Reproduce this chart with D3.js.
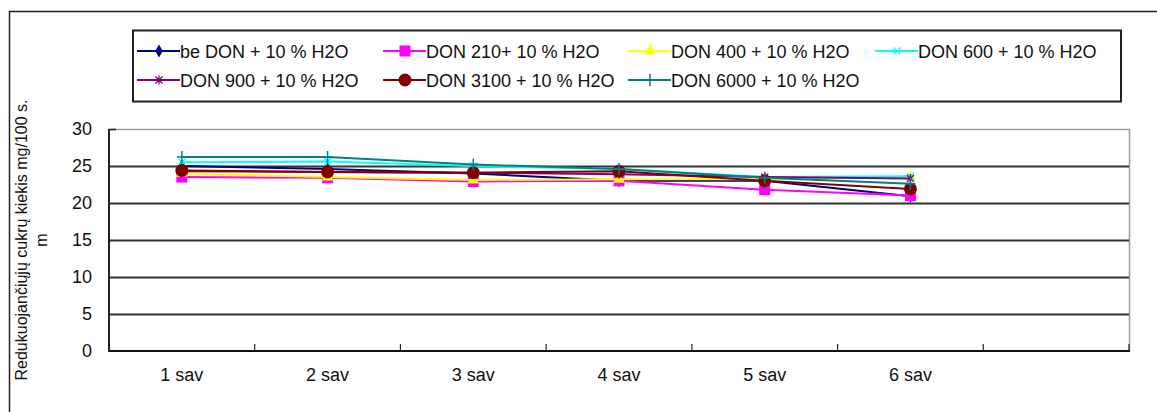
<!DOCTYPE html>
<html>
<head>
<meta charset="utf-8">
<script src="https://cdn.jsdelivr.net/npm/d3@7"></script>
<style>
  body { margin: 0; background: #fff; }
  text { font-family: "Liberation Sans", Arial, sans-serif; fill: #111; }
</style>
</head>
<body>
<div id="vis"></div>
<script>
const FRAME_WIDTH = 1157;
const FRAME_HEIGHT = 412;
const PLOT = {left: 109, right: 1129, top: 129, bottom: 351};

// data
const weeks = ["1 sav", "2 sav", "3 sav", "4 sav", "5 sav", "6 sav", ""];
const seriesNames = ["be DON + 10 % H2O", "DON 210+ 10 % H2O", "DON 400 + 10 % H2O",
  "DON 600 + 10 % H2O", "DON 900 + 10 % H2O", "DON 3100 + 10 % H2O", "DON 6000 + 10 % H2O"];
const beDon   = [25.0, 24.6, 24.0, 23.0, 23.0, 20.9];
const don210  = [23.5, 23.4, 22.9, 23.0, 21.8, 21.0];
const don400  = [24.0, 23.5, 23.1, 23.2, 23.2, 23.5];
const don600  = [25.5, 25.6, 25.0, 24.6, 23.5, 23.6];
const don900  = [24.3, 24.2, 24.1, 23.9, 23.5, 23.3];
const don3100 = [24.4, 24.2, 24.1, 24.3, 23.0, 21.9];
const don6000 = [26.2, 26.2, 25.2, 24.6, 23.4, 22.6];
const yTicks = [0, 5, 10, 15, 20, 25, 30];

const allValues = [beDon, don210, don400, don600, don900, don3100, don6000];
const colors = ["#000080", "#ff00ff", "#ffff00", "#00ffff", "#800080", "#800000", "#008080"];
const markers = ["diamond", "square", "triangle", "cross", "star", "circle", "plus"];

const svg = d3.select("#vis").append("svg")
    .attr("width", FRAME_WIDTH)
    .attr("height", FRAME_HEIGHT);

// outer chart frame (runs off the right and bottom)
svg.append("path")
    .attr("d", "M9.5,420 V11.5 H1170")
    .attr("fill", "none")
    .attr("stroke", "#222")
    .attr("stroke-width", 1.5);

const X_SCALE = d3.scaleBand()
    .domain(weeks)
    .range([PLOT.left, PLOT.right]);
const Y_SCALE = d3.scaleLinear()
    .domain([0, 30])
    .range([PLOT.bottom, PLOT.top]);

// plot area border (grey, top and right)
svg.append("path")
    .attr("d", `M${PLOT.left},${PLOT.top + 0.5} H${PLOT.right + 0.5} V${PLOT.bottom}`)
    .attr("fill", "none")
    .attr("stroke", "#9a9a9a")
    .attr("stroke-width", 1.5);

// gridlines
svg.append("g")
    .attr("transform", `translate(${PLOT.left},0)`)
    .call(d3.axisLeft(Y_SCALE).tickValues(yTicks.slice(1, -1))
        .tickSize(-(PLOT.right - PLOT.left)).tickFormat(""))
    .call(g => g.select(".domain").remove())
    .call(g => g.selectAll("line").attr("stroke", "#333").attr("stroke-width", 2));

// y axis labels
svg.append("g")
    .attr("transform", `translate(${PLOT.left},0)`)
    .call(d3.axisLeft(Y_SCALE).tickValues(yTicks).tickSize(0).tickPadding(17))
    .call(g => g.select(".domain").remove())
    .call(g => g.selectAll("text").attr("font-size", "18px")
        .attr("font-family", "Liberation Sans, Arial, sans-serif"));

// small inward tick at the top of the y axis
svg.append("line")
    .attr("x1", PLOT.left).attr("x2", PLOT.left + 7)
    .attr("y1", Y_SCALE(30) + 0.5).attr("y2", Y_SCALE(30) + 0.5)
    .attr("stroke", "#222").attr("stroke-width", 1.5);

// x axis labels
svg.append("g")
    .attr("transform", `translate(0,${PLOT.bottom})`)
    .call(d3.axisBottom(X_SCALE).tickSize(0).tickPadding(17))
    .call(g => g.select(".domain").remove())
    .call(g => g.selectAll("text").attr("font-size", "18px")
        .attr("font-family", "Liberation Sans, Arial, sans-serif"));

// x ticks between categories, pointing up
svg.append("g").selectAll("line")
    .data(weeks)
    .enter().append("line")
      .attr("x1", d => X_SCALE(d) + X_SCALE.bandwidth())
      .attr("x2", d => X_SCALE(d) + X_SCALE.bandwidth())
      .attr("y1", PLOT.bottom)
      .attr("y2", PLOT.bottom - 7)
      .attr("stroke", "#222")
      .attr("stroke-width", 1.2);

// axis lines
svg.append("line")
    .attr("x1", PLOT.left).attr("x2", PLOT.left)
    .attr("y1", PLOT.top).attr("y2", PLOT.bottom + 1)
    .attr("stroke", "#222").attr("stroke-width", 2);
svg.append("line")
    .attr("x1", PLOT.left).attr("x2", PLOT.right + 1)
    .attr("y1", PLOT.bottom).attr("y2", PLOT.bottom)
    .attr("stroke", "#111").attr("stroke-width", 2);

// y axis title, rotated
svg.append("text")
    .attr("transform", "translate(27,240) rotate(-90)")
    .attr("text-anchor", "middle")
    .attr("font-size", "16px")
    .text("Redukuojančiųjų cukrų kiekis mg/100 s.");
svg.append("text")
    .attr("transform", "translate(47,240) rotate(-90)")
    .attr("text-anchor", "middle")
    .attr("font-size", "16px")
    .text("m");

function drawMarker(g, type, color, cx, cy) {
  if (type === "diamond") {
    g.append("path").attr("d", d3.symbol(d3.symbolDiamond, 50)())
      .attr("transform", `translate(${cx},${cy})`).attr("fill", color);
  } else if (type === "square") {
    g.append("rect").attr("x", cx - 5.5).attr("y", cy - 5.5)
      .attr("width", 11).attr("height", 11).attr("fill", color);
  } else if (type === "triangle") {
    g.append("path").attr("d", d3.symbol(d3.symbolTriangle, 60)())
      .attr("transform", `translate(${cx},${cy})`).attr("fill", color);
  } else if (type === "cross") {
    g.append("path").attr("d", `M${cx - 3.5},${cy - 3.5}L${cx + 3.5},${cy + 3.5}M${cx - 3.5},${cy + 3.5}L${cx + 3.5},${cy - 3.5}`)
      .attr("stroke", color).attr("stroke-width", 1.3);
  } else if (type === "star") {
    g.append("path").attr("d", `M${cx - 3.5},${cy - 3.5}L${cx + 3.5},${cy + 3.5}M${cx - 3.5},${cy + 3.5}L${cx + 3.5},${cy - 3.5}M${cx},${cy - 4.5}L${cx},${cy + 4.5}`)
      .attr("stroke", color).attr("stroke-width", 1.3);
  } else if (type === "circle") {
    g.append("circle").attr("cx", cx).attr("cy", cy).attr("r", 6.5).attr("fill", color);
  } else if (type === "plus") {
    g.append("path").attr("d", `M${cx - 5},${cy}L${cx + 5},${cy}M${cx},${cy - 6}L${cx},${cy + 6}`)
      .attr("stroke", color).attr("stroke-width", 1.5);
  }
}

// series lines and markers
const line = d3.line()
    .x((d, i) => X_SCALE(weeks[i]) + X_SCALE.bandwidth() / 2)
    .y(d => Y_SCALE(d));

allValues.forEach((vals, s) => {
  const g = svg.append("g");
  g.append("path")
    .datum(vals)
    .attr("d", line)
    .attr("fill", "none")
    .attr("stroke", colors[s])
    .attr("stroke-width", 2);
  vals.forEach((v, i) => {
    drawMarker(g, markers[s], colors[s],
      X_SCALE(weeks[i]) + X_SCALE.bandwidth() / 2, Y_SCALE(v));
  });
});

// legend
const legend = svg.append("g");
legend.append("rect")
    .attr("x", 133).attr("y", 30.5)
    .attr("width", 988).attr("height", 71)
    .attr("fill", "#fff")
    .attr("stroke", "#222")
    .attr("stroke-width", 2);

const legendCols = [137, 383, 628, 875];
const legendRows = [51, 80];
seriesNames.forEach((name, s) => {
  const col = s < 4 ? s : s - 4;
  const row = s < 4 ? 0 : 1;
  const lx = legendCols[col];
  const ly = legendRows[row];
  const g = legend.append("g");
  g.append("line")
    .attr("x1", lx).attr("x2", lx + 43)
    .attr("y1", ly).attr("y2", ly)
    .attr("stroke", colors[s]).attr("stroke-width", 2);
  drawMarker(g, markers[s], colors[s], lx + 22, ly);
  g.append("text")
    .attr("x", lx + 43)
    .attr("y", ly + 6.5)
    .attr("font-size", "18px")
    .text(name);
});
</script>
</body>
</html>
